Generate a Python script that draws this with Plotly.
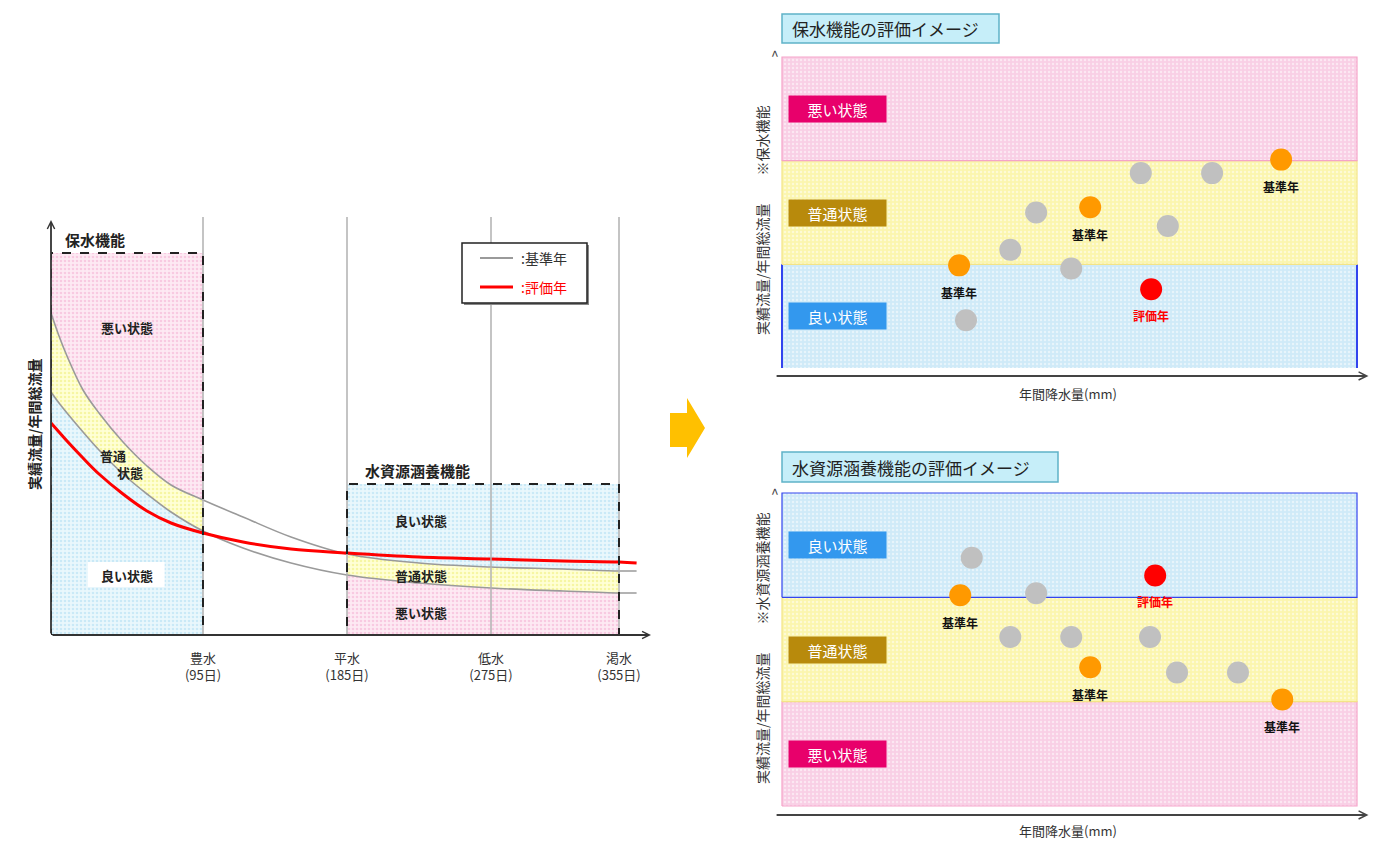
import plotly.graph_objects as go

# page body has an 8px margin, so the figure is drawn 8px in from the window corner
OFF = 8
W, H = 1382 - OFF, 842 - OFF
FONT = "Noto Sans CJK JP"

# ---- left chart: flow duration curves (x = days, y = relative flow) ----
flow_days = [0, 5, 10, 20, 30, 45, 60, 75, 95, 120, 150, 185, 230, 275, 320, 355, 366]
eval_flow = [212, 203, 194, 177, 161, 141, 124, 112, 102, 93, 86, 82, 78, 76, 74, 73, 72]
base_upper = [322, 299, 279, 245, 222, 193, 169, 150, 135, 118, 98, 81, 72, 68, 66, 64, 64]
base_lower = [243, 232, 222, 203, 185, 161, 141, 123, 104, 87, 72, 60, 52, 47, 44, 42, 42]

tick_days = [95, 185, 275, 355]
tick_text = ["豊水<br>(95日)", "平水<br>(185日)", "低水<br>(275日)", "渇水<br>(355日)"]

retention_box = [0, 95, 382]     # x0, x1, top
water_box = [185, 355, 151]

# ---- right panels: bands 0-1-2-3, dots ----
band_edges = [0, 1, 2, 3]
ret_band_names = ["良い状態", "普通状態", "悪い状態"]
src_band_names = ["悪い状態", "普通状態", "良い状態"]

ret_gray_x = [44.2, 39.7, 50.3, 62.4, 74.8, 67.1, 32.0]
ret_gray_y = [1.50, 1.14, 0.96, 1.88, 1.88, 1.37, 0.46]
ret_base_x = [30.8, 53.6, 86.8]
ret_base_y = [0.99, 1.55, 2.01]
ret_eval_x = [64.2]
ret_eval_y = [0.76]

src_gray_x = [33.0, 44.2, 39.7, 50.3, 64.0, 68.7, 79.3]
src_gray_y = [2.38, 2.04, 1.62, 1.62, 1.62, 1.28, 1.28]
src_base_x = [31.0, 53.6, 87.0]
src_base_y = [2.02, 1.33, 1.02]
src_eval_x = [64.9]
src_eval_y = [2.21]


def px(x):
    return (x - OFF) / W


def py(y):
    return 1 - (y - OFF) / H


fig = go.Figure()

# ---------- left chart fills ----------
def subset(lo, hi, vals):
    return [v for d, v in zip(flow_days, vals) if lo <= d <= hi]


def pat(bg, fg, size=4, sol=0.35):
    return dict(shape=".", bgcolor=bg, fgcolor=fg, size=size, solidity=sol)


L_PINK = pat("#fdeaf3", "#f3a9cf")
L_YEL = pat("#ffffd6", "#eeee70")
L_BLUE = pat("#eaf7fc", "#a9dcf1")


def stack(lo, hi, top, fills):
    d = subset(lo, hi, flow_days)
    layers = [[0] * len(d), subset(lo, hi, base_lower), subset(lo, hi, base_upper), [top] * len(d)]
    for i, ys in enumerate(layers):
        kw = dict(x=d, y=ys, mode="lines", line=dict(width=0, shape="spline"),
                  hoverinfo="skip", showlegend=False, xaxis="x", yaxis="y")
        if i > 0:
            kw.update(fill="tonexty", fillpattern=fills[i - 1], fillcolor=fills[i - 1]["bgcolor"])
        fig.add_trace(go.Scatter(**kw))


stack(retention_box[0], retention_box[1], retention_box[2], [L_BLUE, L_YEL, L_PINK])
stack(water_box[0], water_box[1], water_box[2], [L_PINK, L_YEL, L_BLUE])

# curves
for ys, col, w in [(base_upper, "#9a9a9a", 1.6), (base_lower, "#9a9a9a", 1.6), (eval_flow, "#ff0000", 3)]:
    fig.add_trace(go.Scatter(x=flow_days, y=ys, mode="lines", line=dict(color=col, width=w, shape="spline"),
                             hoverinfo="skip", showlegend=False, xaxis="x", yaxis="y"))

# ---------- right panel bands ----------
R_PINK = pat("#f9cfe5", "#ffffff", 4, 0.3)
R_YEL = pat("#fbf5ae", "#ffffff", 4, 0.3)
R_BLUE = pat("#cfeaf8", "#ffffff", 4, 0.3)
band_style = {"悪い状態": (R_PINK, "#f5a3c9"), "普通状態": (R_YEL, "#f3e487"), "良い状態": (R_BLUE, "#3344ee")}
label_color = {"悪い状態": "#e8006b", "普通状態": "#b88a0c", "良い状態": "#3398ee"}

for names, xa, ya, blue_full in [(ret_band_names, "x2", "y2", False), (src_band_names, "x3", "y3", True)]:
    for i, name in enumerate(names):
        p, lc = band_style[name]
        y0, y1 = band_edges[i], band_edges[i + 1]
        lw = 1.2
        if name == "良い状態" and not blue_full:
            lw = 0
        fig.add_trace(go.Scatter(x=[0, 100, 100, 0, 0], y=[y0, y0, y1, y1, y0], mode="lines",
                                 fill="toself", fillpattern=p, fillcolor=p["bgcolor"],
                                 line=dict(color=lc, width=lw), hoverinfo="skip", showlegend=False,
                                 xaxis=xa, yaxis=ya))
        if name == "良い状態" and not blue_full:
            for xe in [0, 100]:
                fig.add_trace(go.Scatter(x=[xe, xe], y=[y0, y1], mode="lines",
                                         line=dict(color="#3344ee", width=2), hoverinfo="skip",
                                         showlegend=False, xaxis=xa, yaxis=ya))
        fig.add_annotation(x=9.6, y=(y0 + y1) / 2, xref=xa, yref=ya, text=name, showarrow=False,
                           bgcolor=label_color[name], width=95, height=24,
                           font=dict(family=FONT, size=15, color="white"))

# dots
for gx, gy, bx, by, ex, ey, xa, ya in [
        (ret_gray_x, ret_gray_y, ret_base_x, ret_base_y, ret_eval_x, ret_eval_y, "x2", "y2"),
        (src_gray_x, src_gray_y, src_base_x, src_base_y, src_eval_x, src_eval_y, "x3", "y3")]:
    fig.add_trace(go.Scatter(x=gx, y=gy, mode="markers", marker=dict(size=22, color="#c0c0c0"),
                             hoverinfo="skip", showlegend=False, xaxis=xa, yaxis=ya))
    fig.add_trace(go.Scatter(x=bx, y=by, mode="markers", marker=dict(size=22, color="#ff9900"),
                             hoverinfo="skip", showlegend=False, xaxis=xa, yaxis=ya))
    fig.add_trace(go.Scatter(x=ex, y=ey, mode="markers", marker=dict(size=22, color="#ff0000"),
                             hoverinfo="skip", showlegend=False, xaxis=xa, yaxis=ya))
    for x, y in zip(bx, by):
        fig.add_annotation(x=x, y=y, xref=xa, yref=ya, yshift=-27, text="<b>基準年</b>", showarrow=False,
                           font=dict(family=FONT, size=12, color="#111"))
    for x, y in zip(ex, ey):
        fig.add_annotation(x=x, y=y, xref=xa, yref=ya, yshift=-26, text="<b>評価年</b>", showarrow=False,
                           font=dict(family=FONT, size=12, color="#ff0000"))

# ---------- left chart shapes ----------
shapes = []
for d in tick_days:
    shapes.append(dict(type="line", xref="x", yref="y", x0=d, x1=d, y0=0, y1=418,
                       line=dict(color="#b0b0b0", width=1.5), layer="above"))
for b in [retention_box, water_box]:
    shapes.append(dict(type="rect", xref="x", yref="y", x0=b[0], x1=b[1], y0=0, y1=b[2],
                       line=dict(color="#222", width=2, dash="dash"), layer="above"))
# white patch behind left 良い状態
shapes.append(dict(type="rect", xref="x", yref="y", x0=23, x1=71, y0=48, y1=73,
                   fillcolor="white", line=dict(width=0), layer="above"))
# legend box
shapes.append(dict(type="rect", xref="paper", yref="paper", x0=px(464), x1=px(589), y0=py(305), y1=py(245),
                   fillcolor="#888", line=dict(width=0)))
shapes.append(dict(type="rect", xref="paper", yref="paper", x0=px(462), x1=px(587), y0=py(303), y1=py(243),
                   fillcolor="white", line=dict(color="#222", width=1.5)))
shapes.append(dict(type="line", xref="paper", yref="paper", x0=px(480), x1=px(513), y0=py(258), y1=py(258),
                   line=dict(color="#9a9a9a", width=2)))
shapes.append(dict(type="line", xref="paper", yref="paper", x0=px(480), x1=px(513), y0=py(287), y1=py(287),
                   line=dict(color="#ff0000", width=3)))
# middle arrow
ax_pts = [(670, 413), (687, 413), (687, 398), (705, 428), (687, 458), (687, 447), (670, 447)]
path = "M " + " L ".join(f"{px(a)},{py(b)}" for a, b in ax_pts) + " Z"
shapes.append(dict(type="path", xref="paper", yref="paper", path=path, fillcolor="#ffc000", line=dict(width=0)))
# title boxes
for x0, x1, y0, y1 in [(782, 999, 14, 43), (782, 1058, 452, 482)]:
    shapes.append(dict(type="rect", xref="paper", yref="paper", x0=px(x0), x1=px(x1), y0=py(y1), y1=py(y0),
                       fillcolor="#c6eef9", line=dict(color="#5fb2c8", width=1.5)))
fig.update_layout(shapes=shapes)

# ---------- annotations ----------
def note(x, y, text, size=13, color="#222", xref="x", yref="y", xanchor="center", **kw):
    fig.add_annotation(x=x, y=y, xref=xref, yref=yref, text=text, showarrow=False,
                       xanchor=xanchor, yanchor="middle",
                       font=dict(family=FONT, size=size, color=color), **kw)


note(7.5, 396, "<b>保水機能</b>", 15, xanchor="left")
note(47.5, 308, "<b>悪い状態</b>")
note(38.7, 180, "<b>普通</b>")
note(49.4, 163, "<b>状態</b>")
note(47.5, 60, "<b>良い状態</b>")
note(229, 165, "<b>水資源涵養機能</b>", 15)
note(231, 115, "<b>良い状態</b>")
note(231, 60, "<b>普通状態</b>")
note(231, 23, "<b>悪い状態</b>")
note(px(34), py(425), "<b>実績流量/年間総流量</b>", 14, xref="paper", yref="paper", textangle=-90)

note(px(519), py(258), ":基準年", 14, "#333", "paper", "paper", xanchor="left")
note(px(519), py(287), ":評価年", 14, "#ff0000", "paper", "paper", xanchor="left")

# axis arrows (left)
fig.add_annotation(x=0, y=415, ax=0, ay=0, xref="x", yref="y", axref="x", ayref="y", text="",
                   showarrow=True, arrowhead=5, arrowsize=0.8, arrowwidth=1.8, arrowcolor="#333")
fig.add_annotation(x=375, y=0, ax=0, ay=0, xref="x", yref="y", axref="x", ayref="y", text="",
                   showarrow=True, arrowhead=5, arrowsize=0.8, arrowwidth=1.8, arrowcolor="#333")

# right panels: titles, axes
note(px(790), py(29), "保水機能の評価イメージ", 17, "#222", "paper", "paper", xanchor="left")
note(px(790), py(467), "水資源涵養機能の評価イメージ", 17, "#222", "paper", "paper", xanchor="left")
for ya, ybase, yl, lab, ycen in [("y2", -0.077, 393, "実績流量/年間総流量　　※保水機能", 220),
                                 ("y3", -0.086, 830, "実績流量/年間総流量　　※水資源涵養機能", 648)]:
    xa = "x2" if ya == "y2" else "x3"
    fig.add_annotation(x=102.0, y=ybase, ax=-1.2, ay=ybase, xref=xa, yref=ya, axref=xa, ayref=ya, text="",
                       showarrow=True, arrowhead=5, arrowsize=0.8, arrowwidth=2, arrowcolor="#444")
    note(px(1068), py(yl), "年間降水量(mm)", 13, "#333", "paper", "paper")
    note(px(762), py(ycen), lab, 14, "#333", "paper", "paper", textangle=-90)
note(px(775), py(55), "^", 14, "#444", "paper", "paper")
note(px(775), py(493), "^", 14, "#444", "paper", "paper")

# ---------- axes ----------
hide = dict(showgrid=False, zeroline=False, showline=False, showticklabels=False, ticks="")
sx0, sx1 = -7 / 5.75, 588 / 5.75
fig.update_layout(
    width=W, height=H, margin=dict(l=0, r=0, t=0, b=0),
    paper_bgcolor="white", plot_bgcolor="rgba(0,0,0,0)", showlegend=False,
    xaxis=dict(domain=[px(51), px(651)], range=[0, 375], anchor="y", showgrid=False, zeroline=False,
               showline=False, tickvals=tick_days, ticktext=tick_text, ticklabelstandoff=14,
               tickfont=dict(family=FONT, size=13, color="#333")),
    yaxis=dict(domain=[py(635), py(215)], range=[0, 420], anchor="x", **hide),
    xaxis2=dict(domain=[px(775), px(1370)], range=[sx0, sx1], anchor="y2", **hide),
    yaxis2=dict(domain=[py(378), py(50)], range=[(368 - 378) / 103.67, (368 - 50) / 103.67], anchor="x2", **hide),
    xaxis3=dict(domain=[px(775), px(1370)], range=[sx0, sx1], anchor="y3", **hide),
    yaxis3=dict(domain=[py(815), py(488)], range=[(806 - 815) / 104.33, (806 - 488) / 104.33], anchor="x3", **hide),
)

fig.write_html("out.html")
